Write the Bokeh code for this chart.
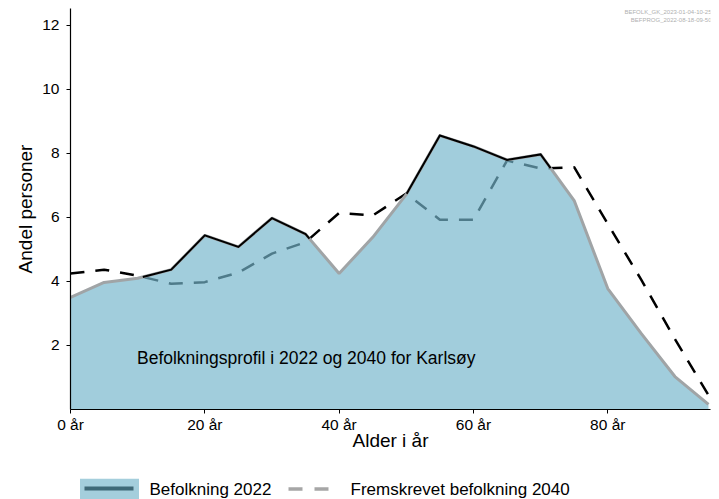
import numpy as np
from bokeh.plotting import figure
from bokeh.layouts import column
from bokeh.models import Range1d, FixedTicker, Label
from bokeh.core.properties import value
from bokeh.embed import file_html
from bokeh.resources import INLINE

# ---------------- data ----------------
ages = [0, 5, 10, 15, 20, 25, 30, 35, 40, 45, 50, 55, 60, 65, 70, 75, 80, 85, 90, 95]
pop_2022 = [3.50, 3.97, 4.10, 4.37, 5.44, 5.08, 5.98, 5.48, 4.25, 5.38,
            6.72, 8.56, 8.22, 7.80, 7.97, 6.53, 3.78, 2.37, 1.03, 0.16]
proj_2040 = [4.25, 4.37, 4.18, 3.93, 3.98, 4.28, 4.87, 5.23, 6.14, 6.06,
             6.75, 5.93, 5.93, 7.78, 7.53, 7.57, 5.80, 4.05, 2.20, 0.45]
x_ticks = [0, 20, 40, 60, 80]
x_tick_labels = ["0 år", "20 år", "40 år", "60 år", "80 år"]
y_ticks = [2, 4, 6, 8, 10, 12]
note_text = "Befolkningsprofil i 2022 og 2040 for Karlsøy"
source_notes = ["BEFOLK_GK_2023-01-04-10-25", "BEFPROG_2022-08-18-09-50"]
legend_labels = ["Befolkning 2022", "Fremskrevet befolkning 2040"]
x_label = "Alder i år"
y_label = "Andel personer"

FONT = "Liberation Sans"

p = figure(width=719, height=466, output_backend="svg", toolbar_location=None,
           x_range=Range1d(0, 95.3), y_range=Range1d(0, 12.53),
           min_border_left=70, min_border_right=9, min_border_top=8,
           min_border_bottom=57)
p.xgrid.visible = False
p.ygrid.visible = False
p.outline_line_color = None
p.background_fill_color = "white"
p.border_fill_color = "white"

# projected 2040 (drawn first, the semi-transparent area tints it inside)
p.line(ages, proj_2040, line_color="black", line_width=2.5, line_dash="14 11")

# 2022 area
p.varea(x=ages, y1=[0] * len(ages), y2=pop_2022, fill_color="#74b6cb", fill_alpha=0.68)
p.line(ages, pop_2022, line_color="#a0a4a6", line_width=3)

# black outline where 2022 is above the 2040 projection
a = np.array(pop_2022, float)
b = np.array(proj_2040, float)
xa = np.array(ages, float)
polys_x, polys_y = [], []
for i in range(len(xa) - 1):
    d0, d1 = a[i] - b[i], a[i + 1] - b[i + 1]
    if d0 >= 0 and d1 >= 0:
        seg = [(xa[i], a[i]), (xa[i + 1], a[i + 1])]
    elif d0 >= 0 > d1 or d0 < 0 <= d1:
        t = d0 / (d0 - d1)
        c = (xa[i] + t * (xa[i + 1] - xa[i]), a[i] + t * (a[i + 1] - a[i]))
        seg = [(xa[i], a[i]), c] if d0 >= 0 else [c, (xa[i + 1], a[i + 1])]
    else:
        continue
    if polys_x and polys_x[-1][-1] == seg[0][0] and polys_y[-1][-1] == seg[0][1]:
        polys_x[-1].append(seg[1][0])
        polys_y[-1].append(seg[1][1])
    else:
        polys_x.append([seg[0][0], seg[1][0]])
        polys_y.append([seg[0][1], seg[1][1]])
p.multi_line(polys_x, polys_y, line_color="black", line_width=2, line_join="miter")

# axes
for ax in (p.xaxis, p.yaxis):
    ax.axis_line_color = "black"
    ax.axis_line_width = 1.2
    ax.major_tick_line_color = "black"
    ax.major_tick_out = 4
    ax.major_tick_in = 0
    ax.minor_tick_line_color = None
    ax.major_label_text_font = FONT
    ax.major_label_text_font_size = "15.5px"
    ax.major_label_text_color = "black"
    ax.axis_label_text_font = FONT
    ax.axis_label_text_font_size = "19px"
    ax.axis_label_text_font_style = "normal"
    ax.axis_label_text_color = "black"

p.xaxis.ticker = FixedTicker(ticks=x_ticks)
p.xaxis.major_label_overrides = {t: l for t, l in zip(x_ticks, x_tick_labels)}
p.xaxis.major_label_standoff = 2
p.xaxis.axis_label = x_label
p.xaxis.axis_label_standoff = -6

p.yaxis.ticker = FixedTicker(ticks=y_ticks)
p.yaxis.major_label_standoff = 7
p.yaxis.axis_label = y_label
p.yaxis.axis_label_standoff = 3

# annotation in plot
p.add_layout(Label(x=9.9, y=1.62, text=note_text, text_font=FONT,
                   text_font_size="17.5px", text_color="black",
                   text_baseline="alphabetic", text_align="left"))

# source notes top right
for txt, yy in zip(source_notes, [12.42, 12.16]):
    p.add_layout(Label(x=95.45, y=yy, text=txt, text_font=FONT,
                       text_font_size="6px", text_color="#b0b0b0",
                       text_align="right", text_baseline="middle"))

# ---------------- legend strip (separate figure, frame aligned with the main one,
# ranges expressed in page pixels) ----------------
lg = figure(width=719, height=33, output_backend="svg", toolbar_location=None,
            x_range=Range1d(70, 710), y_range=Range1d(499, 466),
            x_axis_location=None, y_axis_location=None,
            min_border_left=70, min_border_right=9, min_border_top=0, min_border_bottom=0)
lg.xgrid.visible = False
lg.ygrid.visible = False
lg.outline_line_color = None
lg.border_fill_color = "white"

lg.quad(left=[79.5], right=[138.5], top=[478.3], bottom=[498.5], fill_color="#a4cedc",
        line_alpha=0)
lg.segment(x0=[84], y0=[488], x1=[133], y1=[488], line_color="#3f6977", line_width=4)
lg.segment(x0=[288], y0=[488.5], x1=[328.5], y1=[488.5], line_color="#a6a6a6",
           line_width=3.3, line_dash="14 12")
lg.text(x=[149, 350], y=[488.5, 488.5], text=legend_labels, text_font=value(FONT),
        text_font_size="17px", text_color="black", text_baseline="middle",
        text_align="left")

open("out.html", "w").write(file_html(column(p, lg, spacing=0), INLINE))
